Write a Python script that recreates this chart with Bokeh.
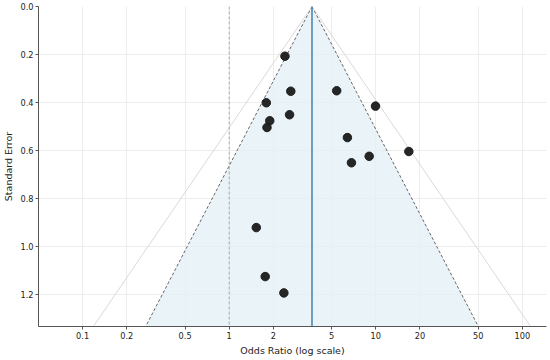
import numpy as np
from bokeh.plotting import figure
from bokeh.models import Range1d, FixedTicker, CustomJSTickFormatter, NumeralTickFormatter, Span
from bokeh.embed import file_html
from bokeh.resources import INLINE

# Study data
odds_ratio = [2.40, 2.63, 5.41, 9.95, 1.79, 2.58, 1.89, 1.81, 6.40, 9.01, 6.82, 16.8, 1.53, 1.76, 2.36]
std_error = [0.207, 0.353, 0.351, 0.415, 0.401, 0.451, 0.476, 0.504, 0.546, 0.624, 0.651, 0.604, 0.921, 1.125, 1.193]
pooled_or = 3.67
se_axis_max = 1.333
x_ticks = [0.1, 0.2, 0.5, 1, 2, 5, 10, 20, 50, 100]
y_ticks = [0.0, 0.2, 0.4, 0.6, 0.8, 1.0, 1.2]
x_limits = [0.05, 146]

FONT = "DejaVu Sans"

p = figure(width=548, height=358, x_axis_type="log",
           x_range=Range1d(x_limits[0], x_limits[1]),
           y_range=Range1d(se_axis_max, 0),
           output_backend="svg", toolbar_location=None,
           min_border_left=2, min_border_right=2, min_border_top=6, min_border_bottom=4)
p.outline_line_color = None
p.background_fill_color = "white"

lc = np.log(pooled_or)
se_line = np.array([0.0, se_axis_max])

# 95% funnel (shaded)
xs95 = [np.exp(lc - 1.96 * se_axis_max), pooled_or, np.exp(lc + 1.96 * se_axis_max)]
ys95 = [se_axis_max, 0.0, se_axis_max]
p.patch(xs95, ys95, fill_color="#e3eff6", fill_alpha=0.75, line_color=None)
p.line(np.exp(lc - 1.96 * se_line), se_line, line_color="#666666", line_dash="3 2", line_width=1)
p.line(np.exp(lc + 1.96 * se_line), se_line, line_color="#666666", line_dash="3 2", line_width=1)

# 99% funnel lines
p.line(np.exp(lc - 2.576 * se_line), se_line, line_color="#d9d9d9", line_width=1)
p.line(np.exp(lc + 2.576 * se_line), se_line, line_color="#d9d9d9", line_width=1)

# Null line and pooled estimate
p.add_layout(Span(location=1, dimension="height", line_color="#aaaaaa", line_dash="3 2", line_width=1))
p.add_layout(Span(location=pooled_or, dimension="height", line_color="#2d6e9e", line_width=1.3))

p.scatter(odds_ratio, std_error, size=8.5, fill_color="#1a1a1a", line_color="#1a1a1a", alpha=0.95)

# axes
p.xaxis.ticker = FixedTicker(ticks=x_ticks, minor_ticks=[])
p.xaxis.formatter = CustomJSTickFormatter(code="return tick.toString();")
p.yaxis.ticker = FixedTicker(ticks=y_ticks, minor_ticks=[])
p.yaxis.formatter = NumeralTickFormatter(format="0.0")
p.xaxis.axis_label = "Odds Ratio (log scale)"
p.yaxis.axis_label = "Standard Error"
for ax in (p.xaxis, p.yaxis):
    ax.axis_label_text_font = FONT
    ax.axis_label_text_font_style = "normal"
    ax.axis_label_text_font_size = "9.5px"
    ax.axis_label_text_color = "#222222"
    ax.major_label_text_font = FONT
    ax.major_label_text_font_size = "8.2px"
    ax.major_label_text_color = "#222222"
    ax.axis_line_color = "#555555"
    ax.major_tick_line_color = "#555555"
    ax.major_tick_out = 3
    ax.major_tick_in = 0
    ax.minor_tick_line_color = None
    ax.major_label_standoff = 2
    ax.axis_label_standoff = 3

p.xgrid.ticker = FixedTicker(ticks=x_ticks)
p.ygrid.ticker = FixedTicker(ticks=y_ticks)
p.grid.grid_line_color = "#e8e8e8"
p.grid.grid_line_alpha = 0.8

open("out.html", "w").write(file_html(p, INLINE))
